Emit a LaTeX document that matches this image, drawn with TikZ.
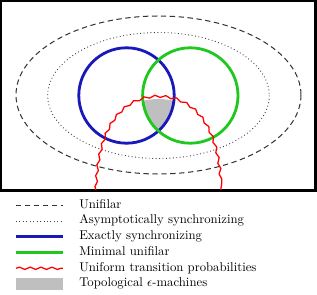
\documentclass[tikz,border=0pt]{standalone}
\usetikzlibrary{decorations.pathmorphing}
\definecolor{myblue}{RGB}{25,25,185}
\definecolor{mygreen}{RGB}{30,200,30}
\begin{document}
\begin{tikzpicture}[x=0.785pt,y=-0.785pt,
  unifilar/.style={draw=black!80,line width=0.8pt,dash pattern=on 4.2pt off 2.8pt},
  asym/.style={draw=black!75,line width=0.7pt,dotted},
  exact/.style={draw=myblue,line width=2.2pt},
  minimal/.style={draw=mygreen,line width=2.2pt},
  uniform/.style={draw=red,line width=1pt,decorate,decoration={snake,amplitude=0.9pt,segment length=8.5pt}},
  topo/.style={fill=gray!50},
  legtext/.style={anchor=mid west,inner sep=0pt,font=\normalsize}]
\useasboundingbox (0,0) rectangle (317,295);
% frame
\draw[line width=1.6pt] (1,1) rectangle (315.5,190.5);
% grey region
\begin{scope}
  \clip (126.5,95.5) circle (47.7);
  \clip (190.3,95.5) circle (47.7);
  \fill[topo] (96,190) .. controls (98,125) and (125,99) .. (158.5,99)
     .. controls (192,99) and (219,125) .. (221,190) -- cycle;
\end{scope}
% ellipses
\draw[unifilar] (158.5,95) ellipse (142.5 and 79);
\draw[asym] (158.5,95.5) ellipse (110.8 and 63);
% circles
\draw[exact] (126.5,95.5) circle (47.7);
\draw[minimal] (190.3,95.5) circle (47.7);
% red wavy
\draw[uniform] (96,190) .. controls (98,125) and (125,99) .. (158.5,99)
     .. controls (192,99) and (219,125) .. (221,190);
% legend
\coordinate (l1a) at (16,205.5); \coordinate (l1b) at (63,205.5);
\coordinate (l2a) at (16,221.2); \coordinate (l2b) at (63,221.2);
\coordinate (l3a) at (16,236.9); \coordinate (l3b) at (63,236.9);
\coordinate (l4a) at (16,252.6); \coordinate (l4b) at (63,252.6);
\coordinate (l5a) at (16,268.3); \coordinate (l5b) at (63,268.3);
\draw[unifilar] (l1a) -- (l1b);
\draw[asym] (l2a) -- (l2b);
\draw[exact] (l3a) -- (l3b);
\draw[minimal] (l4a) -- (l4b);
\draw[uniform] (l5a) -- (l5b);
\fill[topo] (16,278.5) rectangle (63.5,290);
\node[legtext] (t1) at (79,205.5) {Unifilar};
\node[legtext] (t2) at (79,221.2) {Asymptotically synchronizing};
\node[legtext] (t3) at (79,236.9) {Exactly synchronizing};
\node[legtext] (t4) at (79,252.6) {Minimal unifilar};
\node[legtext] (t5) at (79,268.3) {Uniform transition probabilities};
\node[legtext] (t6) at (79,284) {Topological $\epsilon$-machines};
\end{tikzpicture}
\end{document}
